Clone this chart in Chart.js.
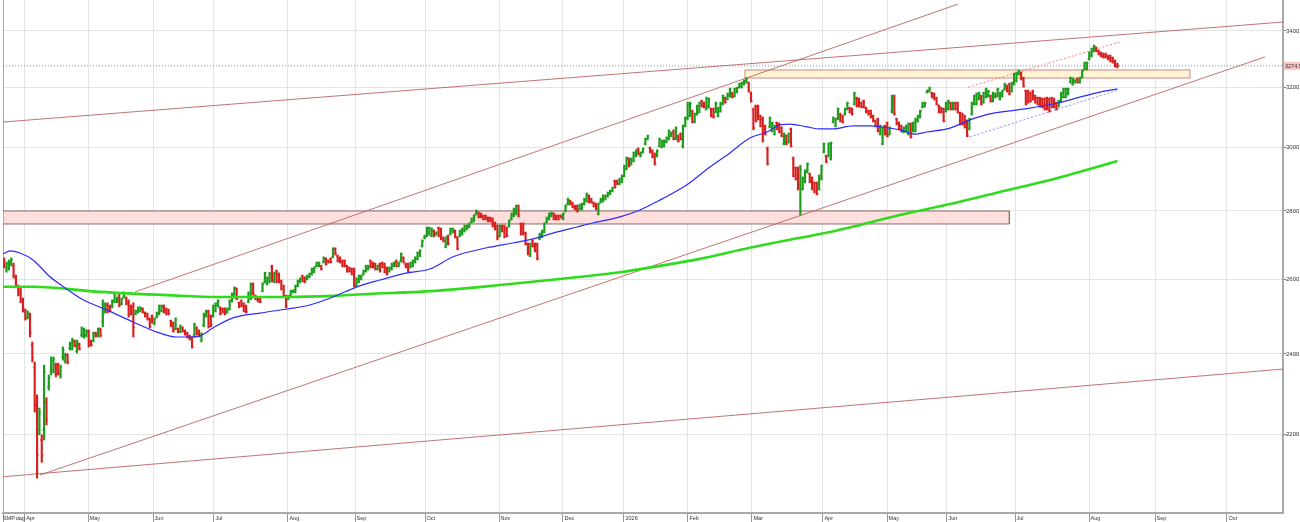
<!DOCTYPE html>
<html>
<head>
<meta charset="utf-8">
<script src="https://cdn.jsdelivr.net/npm/chart.js@4.4.1/dist/chart.umd.min.js"></script>
<style>
html, body { margin: 0; padding: 0; background: #fff; }
canvas { display: block; }
</style>
</head>
<body>
<canvas id="graficoCanvas" width="1300" height="522"></canvas>
<script>
//DADOS

const monthLabels = ['SMP.dag', 'Apr', 'May', 'Jun', 'Jul', 'Aug', 'Sep', 'Oct', 'Nov', 'Dec',
	'2026', 'Feb', 'Mar', 'Apr', 'May', 'Jun', 'Jul', 'Aug', 'Sep', 'Oct']
// posicao (em barras) onde comeca cada mes
const monthPos = [-0.5, 8.7, 35.7, 63.4, 89.3, 120.8, 149.4, 179.2, 210.7, 237.9,
	263.9, 291.1, 318.4, 348.6, 375.9, 401.4, 430.4, 461.9, 490.0, 520.6]

const yTicks = [2200, 2400, 2600, 2800, 3000, 3200, 3400]
const lastPrice = 3274.5

const highs = [
	2662,2650,2656,2662,2647,2613,2585,2577,2549,2519,
	2514,2508,2431,2379,2296,2264,2199,2371,2289,2346,
	2392,2392,2376,2376,2371,2418,2402,2400,2431,2441,
	2436,2436,2428,2471,2468,2463,2463,2436,2457,2457,
	2468,2468,2544,2536,2536,2530,2544,2563,2552,2563,
	2549,2566,2552,2544,2530,2536,2516,2525,2525,2522,
	2511,2508,2495,2503,2495,2511,2530,2530,2530,2522,
	2519,2489,2484,2495,2468,2476,2471,2463,2457,2449,
	2444,2481,2471,2463,2455,2508,2516,2516,2503,2530,
	2536,2544,2525,2522,2522,2522,2544,2563,2580,2577,
	2538,2544,2536,2530,2566,2591,2591,2557,2552,2549,
	2591,2621,2608,2621,2641,2621,2627,2619,2599,2585,
	2557,2557,2571,2571,2585,2599,2605,2613,2608,2613,
	2619,2633,2636,2650,2650,2641,2665,2662,2656,2662,
	2691,2691,2670,2665,2656,2656,2641,2636,2633,2633,
	2605,2613,2613,2627,2641,2641,2656,2650,2647,2641,
	2647,2650,2647,2636,2636,2647,2650,2656,2650,2676,
	2665,2647,2647,2650,2656,2665,2679,2685,2714,2728,
	2752,2752,2749,2743,2737,2752,2749,2723,2723,2728,
	2749,2749,2743,2723,2743,2749,2758,2758,2764,2779,
	2788,2803,2797,2794,2788,2788,2782,2782,2779,2767,
	2758,2758,2758,2758,2752,2773,2794,2809,2818,2818,
	2764,2764,2737,2705,2705,2714,2705,2705,2734,2743,
	2764,2782,2794,2797,2794,2788,2788,2788,2794,2818,
	2839,2833,2827,2818,2818,2821,2824,2839,2855,2849,
	2839,2827,2824,2824,2839,2849,2849,2858,2864,2873,
	2895,2895,2901,2911,2942,2968,2965,2965,2984,2991,
	2997,2984,2997,3029,3039,3000,2991,2981,2991,3029,
	3023,3023,3033,3056,3049,3056,3066,3039,3046,3072,
	3099,3149,3149,3122,3112,3139,3149,3156,3149,3166,
	3163,3129,3129,3149,3132,3149,3173,3166,3180,3197,
	3183,3197,3200,3214,3218,3225,3232,3218,3183,3129,
	3139,3139,3105,3099,3072,3000,3099,3082,3072,3082,
	3079,3066,3046,3039,3046,3062,2968,2936,2936,2942,
	2905,2927,2949,2917,2905,2889,2889,2911,2942,3013,
	2974,3013,3016,3099,3095,3129,3112,3105,3129,3149,
	3132,3129,3183,3166,3163,3149,3156,3132,3122,3122,
	3105,3089,3095,3072,3066,3072,3082,3066,3173,3173,
	3095,3082,3072,3066,3072,3079,3079,3082,3095,3105,
	3122,3149,3149,3190,3200,3183,3180,3166,3139,3132,
	3129,3149,3156,3149,3149,3149,3149,3115,3112,3105,
	3089,3095,3149,3173,3180,3183,3173,3183,3197,3190,
	3173,3183,3180,3197,3183,3190,3214,3207,3214,3218,
	3249,3253,3260,3253,3235,3190,3190,3183,3190,3173,
	3166,3166,3163,3163,3166,3163,3166,3163,3149,3156,
	3183,3197,3197,3197,3235,3232,3225,3232,3235,3260,
	3288,3288,3324,3338,3349,3342,3331,3324,3320,3320,
	3313,3313,3306,3295,3284
]

const lows = [
	2633,2621,2627,2639,2605,2577,2555,2536,2511,2489,
	2492,2444,2379,2254,2099,2199,2135,2187,2223,2308,
	2346,2351,2341,2346,2338,2384,2376,2374,2410,2410,
	2418,2402,2410,2444,2441,2444,2418,2420,2431,2444,
	2444,2444,2471,2508,2508,2511,2522,2536,2536,2525,
	2530,2549,2530,2497,2503,2444,2503,2508,2511,2508,
	2497,2489,2468,2481,2476,2495,2503,2511,2508,2503,
	2503,2471,2457,2463,2455,2455,2457,2449,2441,2436,
	2415,2444,2449,2444,2431,2471,2497,2468,2471,2497,
	2511,2525,2503,2508,2503,2508,2516,2538,2549,2544,
	2522,2525,2511,2508,2536,2544,2557,2544,2538,2536,
	2566,2591,2585,2591,2594,2591,2591,2591,2571,2552,
	2522,2544,2552,2563,2563,2580,2591,2594,2591,2599,
	2605,2613,2619,2636,2636,2627,2647,2641,2647,2647,
	2662,2670,2650,2647,2636,2636,2621,2621,2613,2580,
	2580,2591,2599,2613,2621,2627,2633,2633,2627,2627,
	2621,2633,2619,2613,2621,2627,2636,2636,2636,2650,
	2647,2633,2619,2633,2636,2647,2656,2665,2693,2717,
	2723,2728,2723,2723,2728,2723,2714,2708,2691,2699,
	2728,2734,2720,2685,2723,2728,2737,2743,2749,2764,
	2767,2788,2779,2779,2773,2773,2767,2767,2752,2743,
	2714,2723,2737,2720,2723,2752,2773,2782,2788,2782,
	2728,2728,2699,2670,2665,2693,2679,2656,2714,2720,
	2734,2764,2773,2782,2773,2773,2773,2779,2773,2797,
	2818,2818,2809,2803,2797,2803,2803,2818,2827,2824,
	2824,2812,2803,2788,2824,2827,2833,2842,2849,2858,
	2870,2880,2880,2886,2905,2927,2936,2942,2952,2968,
	2974,2968,2981,3007,3023,2981,2965,2942,2968,3000,
	2997,3000,3013,3023,3033,3023,3023,3016,3023,2997,
	3066,3089,3099,3079,3079,3105,3112,3132,3129,3122,
	3129,3099,3095,3112,3099,3115,3139,3145,3156,3166,
	3163,3166,3180,3197,3197,3207,3214,3183,3149,3056,
	3082,3089,3066,3016,3039,2942,3062,3049,3039,3056,
	3046,3033,3007,3007,3013,3000,2905,2895,2864,2788,
	2864,2886,2917,2886,2864,2855,2849,2864,2895,2981,
	2949,2968,2958,3079,3066,3089,3082,3079,3105,3122,
	3112,3105,3139,3132,3132,3129,3129,3112,3105,3095,
	3082,3066,3049,3039,3007,3039,3033,3039,3112,3105,
	3072,3056,3049,3046,3049,3039,3029,3049,3049,3082,
	3095,3129,3132,3180,3183,3163,3156,3139,3112,3112,
	3082,3115,3122,3122,3122,3122,3112,3072,3072,3062,
	3033,3056,3105,3139,3139,3156,3139,3145,3163,3166,
	3149,3149,3163,3166,3156,3166,3190,3183,3173,3183,
	3207,3218,3242,3225,3200,3139,3145,3149,3156,3145,
	3139,3132,3129,3122,3122,3115,3129,3129,3122,3132,
	3149,3163,3163,3173,3214,3207,3214,3214,3214,3232,
	3260,3260,3295,3306,3324,3324,3313,3306,3302,3302,
	3295,3288,3284,3270,3267
]

const opens = [
	2656,2627,2633,2645,2639,2605,2580,2568,2541,2511,
	2497,2500,2423,2364,2271,2211,2187,2211,2279,2316,
	2354,2359,2369,2371,2346,2392,2382,2397,2415,2415,
	2431,2407,2426,2449,2447,2449,2457,2433,2436,2455,
	2449,2463,2484,2514,2530,2527,2527,2541,2538,2557,
	2533,2552,2549,2538,2525,2525,2506,2511,2514,2519,
	2508,2506,2492,2500,2479,2497,2506,2514,2527,2519,
	2516,2487,2481,2466,2466,2457,2468,2460,2455,2447,
	2441,2449,2468,2460,2436,2476,2500,2511,2500,2500,
	2514,2527,2522,2519,2519,2511,2519,2541,2552,2574,
	2536,2541,2533,2527,2538,2549,2588,2555,2549,2546,
	2568,2594,2588,2594,2636,2594,2624,2616,2596,2582,
	2555,2546,2555,2566,2566,2582,2594,2610,2605,2602,
	2608,2616,2622,2639,2639,2639,2650,2659,2653,2659,
	2665,2688,2667,2662,2653,2653,2639,2633,2630,2627,
	2582,2594,2602,2616,2624,2630,2653,2647,2644,2630,
	2644,2647,2644,2633,2624,2630,2639,2653,2639,2653,
	2662,2644,2644,2636,2639,2650,2659,2667,2696,2720,
	2726,2731,2726,2740,2731,2749,2746,2720,2693,2726,
	2731,2737,2740,2720,2726,2731,2740,2746,2752,2767,
	2770,2791,2794,2791,2785,2785,2779,2779,2776,2764,
	2755,2726,2755,2755,2749,2755,2776,2785,2791,2815,
	2761,2758,2734,2702,2667,2711,2702,2699,2717,2723,
	2737,2767,2776,2785,2791,2785,2785,2785,2776,2800,
	2821,2830,2824,2815,2815,2806,2806,2821,2830,2846,
	2836,2824,2821,2791,2827,2830,2836,2846,2852,2861,
	2892,2892,2883,2889,2908,2930,2962,2946,2955,2971,
	2994,2971,2984,3010,3026,2997,2987,2978,2971,3003,
	3000,3003,3016,3026,3036,3052,3026,3036,3042,3003,
	3069,3095,3102,3119,3082,3109,3115,3152,3145,3125,
	3132,3125,3125,3115,3102,3119,3142,3163,3159,3170,
	3180,3170,3183,3200,3200,3211,3218,3214,3180,3122,
	3135,3132,3102,3092,3069,2994,3066,3052,3042,3079,
	3075,3062,3010,3036,3016,3059,2962,2933,2930,2880,
	2867,2889,2920,2914,2901,2886,2886,2867,2898,2984,
	2971,2971,2962,3082,3069,3092,3109,3102,3109,3125,
	3129,3125,3142,3163,3159,3145,3152,3129,3119,3119,
	3102,3085,3092,3042,3010,3069,3079,3042,3119,3166,
	3092,3079,3069,3049,3052,3042,3075,3052,3052,3085,
	3099,3132,3135,3183,3187,3180,3177,3163,3135,3129,
	3125,3119,3125,3145,3125,3145,3145,3112,3109,3102,
	3085,3059,3109,3142,3142,3159,3170,3149,3166,3170,
	3170,3152,3166,3170,3159,3170,3194,3204,3211,3187,
	3211,3221,3246,3249,3232,3187,3187,3180,3187,3170,
	3163,3163,3159,3159,3163,3159,3163,3159,3145,3135,
	3152,3166,3166,3177,3218,3211,3218,3228,3218,3235,
	3263,3263,3299,3310,3327,3338,3327,3320,3317,3313,
	3310,3306,3302,3292,3281
]

const closes = [
	2639,2645,2650,2656,2613,2582,2560,2544,2519,2495,
	2508,2455,2389,2271,2152,2254,2152,2354,2235,2338,
	2384,2387,2348,2351,2366,2410,2397,2379,2426,2436,
	2421,2431,2413,2466,2463,2460,2423,2423,2452,2447,
	2463,2449,2533,2530,2514,2514,2541,2557,2549,2530,
	2546,2563,2533,2503,2508,2470,2514,2522,2522,2511,
	2500,2492,2471,2484,2492,2508,2527,2527,2511,2506,
	2506,2473,2460,2492,2457,2473,2460,2452,2444,2439,
	2418,2476,2452,2447,2452,2503,2514,2473,2476,2527,
	2533,2541,2506,2511,2506,2519,2541,2560,2577,2546,
	2525,2527,2514,2511,2563,2585,2560,2546,2541,2538,
	2588,2619,2605,2616,2599,2616,2594,2594,2574,2555,
	2525,2555,2568,2571,2582,2596,2602,2596,2594,2610,
	2616,2630,2633,2647,2647,2630,2662,2644,2650,2650,
	2688,2673,2653,2650,2639,2639,2624,2624,2616,2585,
	2602,2610,2610,2624,2639,2639,2636,2636,2630,2639,
	2624,2636,2622,2616,2633,2644,2647,2639,2647,2673,
	2650,2636,2622,2647,2653,2662,2676,2682,2711,2726,
	2749,2749,2746,2726,2737,2726,2717,2711,2720,2702,
	2746,2746,2723,2688,2740,2746,2755,2755,2761,2776,
	2785,2800,2782,2782,2776,2776,2770,2770,2755,2746,
	2720,2755,2740,2723,2726,2770,2791,2806,2815,2785,
	2731,2734,2702,2673,2702,2696,2682,2659,2731,2740,
	2761,2779,2791,2794,2776,2776,2776,2782,2791,2815,
	2836,2821,2812,2806,2800,2818,2821,2836,2852,2827,
	2827,2815,2806,2821,2836,2846,2846,2855,2861,2870,
	2873,2883,2898,2908,2939,2965,2939,2962,2981,2987,
	2978,2981,2994,3026,3036,2984,2968,2946,2987,3026,
	3020,3020,3029,3052,3046,3026,3062,3020,3026,3066,
	3095,3142,3145,3082,3109,3135,3145,3135,3132,3162,
	3159,3102,3099,3145,3129,3145,3170,3149,3177,3194,
	3166,3194,3197,3211,3214,3221,3228,3187,3152,3062,
	3085,3092,3069,3023,3042,2946,3095,3079,3069,3059,
	3049,3036,3042,3010,3042,3003,2908,2898,2870,2927,
	2901,2924,2946,2889,2867,2858,2852,2908,2939,3010,
	2952,3010,3013,3095,3092,3125,3085,3082,3125,3145,
	3115,3109,3180,3135,3135,3132,3132,3115,3109,3099,
	3085,3069,3052,3069,3062,3042,3036,3062,3170,3109,
	3075,3059,3052,3062,3069,3075,3033,3079,3092,3102,
	3119,3145,3145,3190,3197,3166,3159,3142,3115,3115,
	3085,3145,3152,3125,3145,3125,3115,3075,3075,3066,
	3036,3092,3145,3170,3177,3180,3142,3180,3194,3187,
	3152,3180,3177,3194,3180,3187,3211,3187,3177,3214,
	3246,3249,3256,3228,3204,3142,3149,3152,3159,3149,
	3142,3135,3132,3125,3125,3119,3132,3132,3125,3152,
	3180,3194,3194,3194,3232,3228,3225,3218,3232,3256,
	3284,3284,3320,3334,3345,3327,3317,3310,3306,3306,
	3299,3292,3288,3274,3274.5
]

// medias moveis: [barra, valor]
const mediaAzul = [
	[-0.5,2673],[2.5,2682],[6.7,2676],[12.3,2656],[19.5,2608],[25.9,2577],[33.6,2544],
	[43.8,2516],[54.9,2484],[65.1,2457],[73.6,2444],[79.1,2444],[83.4,2447],[88.9,2468],
	[97.4,2495],[108.9,2508],[120.4,2519],[130.2,2530],[140.0,2552],[150.2,2580],[160.0,2599],
	[171.5,2619],[181.3,2630],[191.1,2665],[205.6,2691],[216.6,2705],[225.1,2717],[233.7,2734],
	[243.9,2752],[250.7,2764],[262.2,2782],[270.7,2803],[279.2,2833],[290.7,2880],[300.5,2936],
	[309.0,2981],[317.5,3029],[324.7,3049],[330.3,3072],[334.5,3075],[341.8,3066],[347.3,3059],
	[352.9,3059],[361.4,3069],[368.6,3069],[372.9,3066],[381.5,3056],[387.8,3042],[392.9,3049],
	[402.7,3062],[411.2,3089],[419.7,3109],[433.8,3125],[448.2,3145],[458.0,3166],[466.5,3183],
	[474.0,3194]
]
const mediaVerde = [
	[-0.5,2580],[12.3,2580],[40.8,2566],[69.3,2557],[91.9,2552],[120.4,2552],[140.0,2555],
	[154.5,2560],[181.3,2568],[211.1,2585],[236.6,2602],[262.2,2621],[279.2,2639],[296.2,2659],
	[317.5,2691],[338.8,2720],[351.6,2737],[364.4,2758],[381.4,2788],[402.7,2821],[424.0,2858],
	[445.3,2895],[474.0,2955]
]

// linhas de tendencia: [barra1, valor1, barra2, valor2]
const linhasCanal = [
	[-0.5, 3082, 544.5, 3433],
	[55.7, 2566, 406.1, 3500],
	[15.3, 2106, 536.8, 3306],
	[-0.5, 2102, 544.5, 2361]
]
const linhaRosa = [410.4, 3200, 475.1, 3360]
const linhaAzulPont = [411.2, 3033, 474.2, 3190]

// zonas: [barra inicio, barra fim, valor baixo, valor alto]
const zonaRosa = [-0.5, 428, 2761, 2800]
const zonaAmarela = [315.4, 504.9, 3232, 3260]

//FIM DOS DADOS


//Grafico
const corAlta = '#1c9c1c'
const corBaixa = '#d62020'
const cores = closes.map((c, i) => c >= opens[i] ? corAlta : corBaixa)

const barras = highs.map((h, i) => ({ x: i, y: [lows[i], h] }))
const aberturas = opens.map((o, i) => ({ x: i - 0.4, y: o }))
const fechamentos = closes.map((c, i) => ({ x: i + 0.4, y: c }))

const pontos = arr => arr.map(p => ({ x: p[0], y: p[1] }))
const segmento = l => [{ x: l[0], y: l[1] }, { x: l[2], y: l[3] }]
const retangulo = z => [
	{ x: z[0], y: z[3] }, { x: z[1], y: z[3] }, { x: z[1], y: z[2] },
	{ x: z[0], y: z[2] }, { x: z[0], y: z[3] }
]

const familia = '"Liberation Sans", Arial, sans-serif'

const linhaBase = { type: 'line', pointRadius: 0, pointHoverRadius: 0, borderWidth: 1, tension: 0, fill: false }

const datasets = [
	{ ...linhaBase, data: retangulo(zonaRosa), fill: 'shape', backgroundColor: '#ffdede', borderColor: '#8f6b6b', order: 20 },
	{ ...linhaBase, data: retangulo(zonaAmarela), fill: 'shape', backgroundColor: '#fff5d2', borderColor: '#deaaa6', borderWidth: 1.5, order: 19 },
	{ ...linhaBase, data: [{ x: -0.5, y: lastPrice }, { x: 544.5, y: lastPrice }], borderColor: '#8a9a98', borderDash: [1, 2], order: 8 },
	...linhasCanal.map(l => ({ ...linhaBase, data: segmento(l), borderColor: 'rgba(185,90,90,0.85)', order: 7 })),
	{ ...linhaBase, data: segmento(linhaRosa), borderColor: '#ff8080', borderDash: [2, 2], order: 7 },
	{ ...linhaBase, data: segmento(linhaAzulPont), borderColor: '#8c8cff', borderDash: [2, 2], order: 7 },
	{ type: 'bar', data: barras, backgroundColor: cores, barThickness: 1.5, grouped: false, order: 5 },
	{ type: 'scatter', data: aberturas, pointStyle: 'line', pointRadius: 0.8, pointHoverRadius: 0, pointBorderWidth: 1, pointBorderColor: cores, order: 4 },
	{ type: 'scatter', data: fechamentos, pointStyle: 'line', pointRadius: 0.8, pointHoverRadius: 0, pointBorderWidth: 1, pointBorderColor: cores, order: 4 },
	{ ...linhaBase, data: pontos(mediaVerde), borderColor: '#2fdc1c', borderWidth: 2.6, cubicInterpolationMode: 'monotone', order: 2 },
	{ ...linhaBase, data: pontos(mediaAzul), borderColor: '#2c2cff', borderWidth: 1.2, cubicInterpolationMode: 'monotone', order: 1 }
]

// etiqueta do ultimo preco no eixo
const etiquetaPreco = {
	id: 'etiquetaPreco',
	afterDraw(chart) {
		const y = chart.scales.y.getPixelForValue(lastPrice)
		const c = chart.ctx
		c.save()
		c.fillStyle = '#f6c3c3'
		c.fillRect(chart.chartArea.right + 1, y - 4, 17, 8)
		c.fillStyle = '#333'
		c.font = '5.5px ' + familia
		c.textBaseline = 'middle'
		c.fillText(lastPrice.toFixed(1), chart.chartArea.right + 2, y + 0.5)
		c.restore()
	}
}

// tira o espaco que o chart.js reserva para os rotulos
const semPadding = s => {
	s.paddingTop = 0
	s.paddingBottom = 0
	s.paddingLeft = 0
	s.paddingRight = 0
}

const ctx = document.getElementById('graficoCanvas').getContext('2d')

const grafico = new Chart(ctx, {
	data: { datasets: datasets },
	plugins: [etiquetaPreco],
	options: {
		responsive: false,
		animation: false,
		devicePixelRatio: 1,
		events: [],
		layout: { padding: 0, autoPadding: false },
		plugins: {
			legend: { display: false },
			tooltip: { enabled: false }
		},
		scales: {
			x: {
				type: 'linear',
				position: 'bottom',
				min: -0.5,
				max: 544.5,
				bounds: 'data',
				offset: false,
				afterBuildTicks: s => { s.ticks = monthPos.map(v => ({ value: v })) },
				afterFit: s => { s.height = 9; semPadding(s) },
				grid: { color: '#e4e4e4', offset: false, tickLength: 9, tickColor: '#9a9a9a' },
				border: { color: '#a9a9a9', width: 2 },
				ticks: {
					autoSkip: false,
					maxRotation: 0,
					align: 'start',
					padding: -7,
					color: '#333',
					font: { family: familia, size: 5.5 },
					callback: (v, i) => (i ? ' ' : '') + monthLabels[i]
				}
			},
			y: {
				type: 'logarithmic',
				position: 'right',
				min: 2021.4,
				max: 3515.6,
				bounds: 'data',
				beginAtZero: false,
				afterBuildTicks: s => { s.ticks = yTicks.map(v => ({ value: v })) },
				afterFit: s => { s.width = 17; semPadding(s) },
				grid: { color: '#e4e4e4', tickLength: 3, tickColor: '#777' },
				border: { color: '#a9a9a9', width: 2 },
				ticks: {
					padding: 0,
					color: '#333',
					font: { family: familia, size: 6 },
					callback: v => String(v)
				}
			},
			esq: {
				type: 'linear',
				axis: 'y',
				position: 'left',
				display: true,
				grid: { display: false, drawTicks: false },
				ticks: { display: false },
				border: { color: '#a9a9a9', width: 1 },
				afterFit: s => { s.width = 3; semPadding(s) }
			}
		}
	}
})
// FIM GRAFICO
</script>
</body>
</html>
